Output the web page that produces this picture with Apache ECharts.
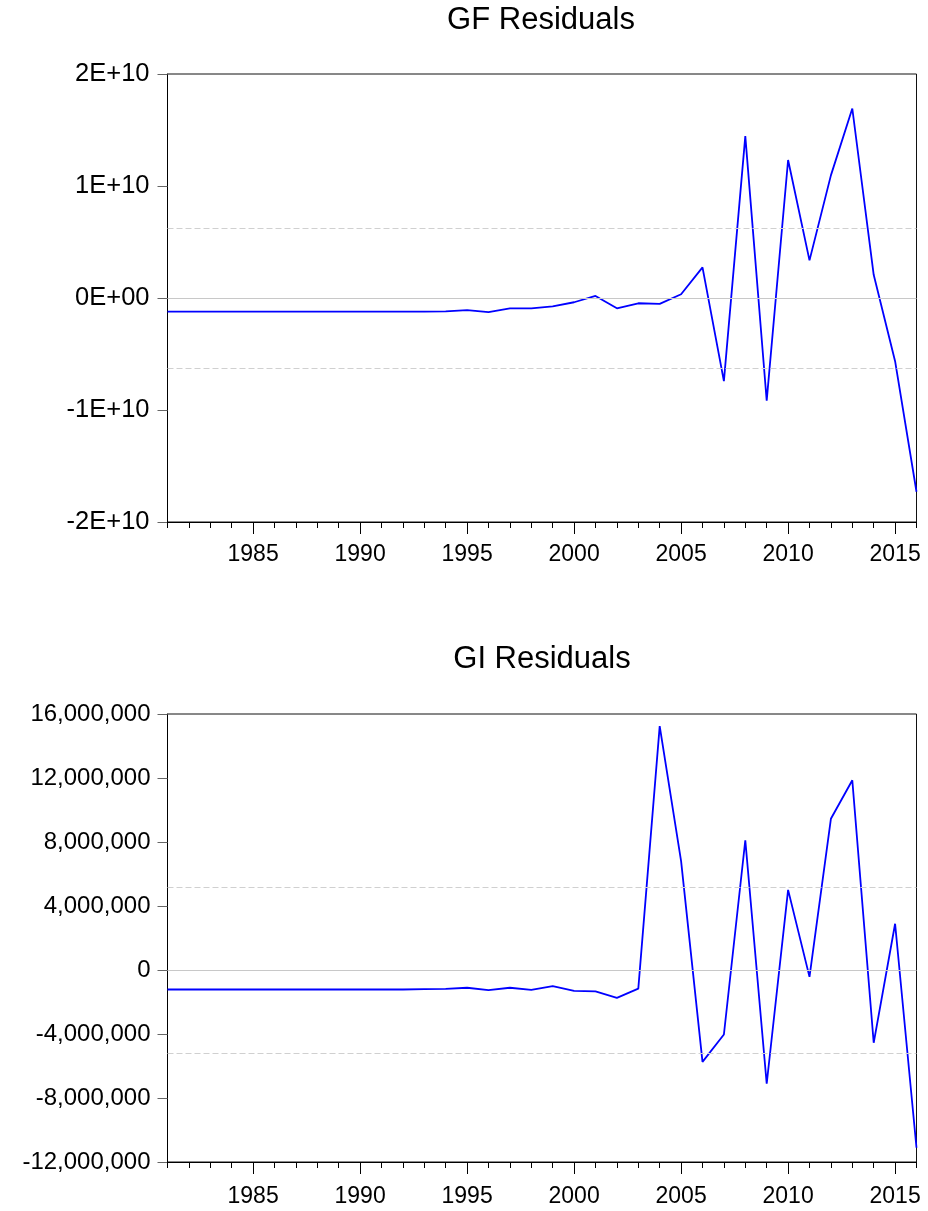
<!DOCTYPE html>
<html>
<head>
<meta charset="utf-8">
<script src="https://cdn.jsdelivr.net/npm/echarts@6/dist/echarts.min.js"></script>
<style>
html,body{margin:0;padding:0;background:#fff;}
#chart{width:928px;height:1211px;}
</style>
</head>
<body>
<div id="chart"></div>
<script>
const years = [1981,1982,1983,1984,1985,1986,1987,1988,1989,1990,1991,1992,1993,1994,1995,1996,1997,1998,1999,2000,2001,2002,2003,2004,2005,2006,2007,2008,2009,2010,2011,2012,2013,2014,2015,2016];
const gfResiduals = [-1.22e9,-1.22e9,-1.22e9,-1.22e9,-1.22e9,-1.22e9,-1.22e9,-1.22e9,-1.22e9,-1.22e9,-1.22e9,-1.22e9,-1.21e9,-1.20e9,-1.08e9,-1.27e9,-0.93e9,-0.92e9,-0.74e9,-0.38e9,0.18e9,-0.92e9,-0.47e9,-0.53e9,0.33e9,2.73e9,-7.42e9,14.45e9,-9.17e9,12.32e9,3.36e9,10.95e9,16.92e9,2.07e9,-5.64e9,-17.3e9];
const giResiduals = [-1.22e6,-1.22e6,-1.22e6,-1.22e6,-1.22e6,-1.22e6,-1.22e6,-1.22e6,-1.22e6,-1.22e6,-1.22e6,-1.22e6,-1.19e6,-1.18e6,-1.11e6,-1.26e6,-1.11e6,-1.24e6,-1.01e6,-1.30e6,-1.34e6,-1.74e6,-1.16e6,15.24e6,6.8e6,-5.74e6,-4.03e6,8.11e6,-7.11e6,5.01e6,-0.43e6,9.45e6,11.86e6,-4.55e6,2.89e6,-11.11e6];
const xLabelYears = [1985,1990,1995,2000,2005,2010,2015];
const gfTickValues = [-2e10,-1e10,0,1e10,2e10];
const gfTickLabels = ['-2E+10','-1E+10','0E+00','1E+10','2E+10'];
const giTickValues = [-12e6,-8e6,-4e6,0,4e6,8e6,12e6,16e6];
const giTickLabels = ['-12,000,000','-8,000,000','-4,000,000','0','4,000,000','8,000,000','12,000,000','16,000,000'];
const gfBand = [6.24e9,-6.24e9];
const giBand = [5.18e6,-5.18e6];
const titles = ['GF Residuals','GI Residuals'];

const FONT = '"Liberation Sans", Arial, sans-serif';
const chart = echarts.init(document.getElementById('chart'), null, {renderer:'canvas'});

function pairs(vals){ return years.map((y,i)=>[y, vals[i]]); }
function labelFor(values, labels){
  return function(v){
    for (let i=0;i<values.length;i++){ if (Math.abs(values[i]-v) < Math.abs(values[1]-values[0])*1e-6) return labels[i]; }
    return '';
  };
}

const grids = [
  {left:167.5, top:74, width:749, height:448},
  {left:167.5, top:714, width:749, height:448}
];
const xMargins = [21, 23];

const xAxes = [];
const yAxes = [];
const series = [];
[0,1].forEach(gi=>{
  xAxes.push({
    type:'value', gridIndex:gi, min:1981, max:2016, interval:1, position:'bottom',
    axisLine:{show:true, onZero:false, lineStyle:{color:'#000', width:1}},
    axisTick:{show:true, length:6, lineStyle:{color:'#000'}},
    axisLabel:{show:true, margin:xMargins[gi], fontSize:23, color:'#000', fontFamily:FONT,
      formatter:function(v){ return xLabelYears.indexOf(v)>=0 ? String(v) : ''; }},
    splitLine:{show:false}
  });
  xAxes.push({
    type:'value', gridIndex:gi, min:1981, max:2016, position:'bottom',
    axisLine:{show:false, onZero:false},
    axisTick:{show:true, length:12, customValues:xLabelYears, lineStyle:{color:'#000'}},
    axisLabel:{show:false},
    splitLine:{show:false}
  });
});
yAxes.push({
  type:'value', gridIndex:0, min:-2e10, max:2e10, interval:1e10,
  axisLine:{show:true, lineStyle:{color:'#000', width:1}},
  axisTick:{show:true, length:10, lineStyle:{color:'#666'}},
  axisLabel:{margin:18, fontSize:25.5, color:'#000', fontFamily:FONT, formatter:labelFor(gfTickValues, gfTickLabels)},
  splitLine:{show:false}
});
yAxes.push({
  type:'value', gridIndex:1, min:-12e6, max:16e6, interval:4e6,
  axisLine:{show:true, lineStyle:{color:'#000', width:1}},
  axisTick:{show:true, length:10, lineStyle:{color:'#666'}},
  axisLabel:{margin:17, fontSize:24, color:'#000', fontFamily:FONT, formatter:labelFor(giTickValues, giTickLabels)},
  splitLine:{show:false}
});

function bandLines(band){
  return {
    silent:true, symbol:['none','none'], label:{show:false}, animation:false,
    data:[
      {yAxis:0, lineStyle:{color:'#c8c8c8', type:'solid', width:1}},
      {yAxis:band[0], lineStyle:{color:'#d0d0d0', type:[6,3], width:1}},
      {yAxis:band[1], lineStyle:{color:'#d0d0d0', type:[6,3], width:1}}
    ]
  };
}

series.push({
  type:'line', xAxisIndex:0, yAxisIndex:0, data:pairs(gfResiduals), showSymbol:false,
  lineStyle:{color:'#0000ff', width:1.8}, itemStyle:{color:'#0000ff'},
  markLine:bandLines(gfBand), z:3
});
series.push({
  type:'line', xAxisIndex:2, yAxisIndex:1, data:pairs(giResiduals), showSymbol:false,
  lineStyle:{color:'#0000ff', width:1.8}, itemStyle:{color:'#0000ff'},
  markLine:bandLines(giBand), z:3
});

chart.setOption({
  animation:false,
  backgroundColor:'#fff',
  title:[
    {text:titles[0], left:536, top:0, textAlign:'center', textStyle:{fontSize:31, fontWeight:'normal', color:'#000', fontFamily:FONT}},
    {text:titles[1], left:537, top:639, textAlign:'center', textStyle:{fontSize:31, fontWeight:'normal', color:'#000', fontFamily:FONT}}
  ],
  grid:grids.map(g=>Object.assign({show:true, borderColor:'#111', borderWidth:1, backgroundColor:'transparent', containLabel:false}, g)),
  xAxis:xAxes,
  yAxis:yAxes,
  series:series
});
</script>
</body>
</html>
